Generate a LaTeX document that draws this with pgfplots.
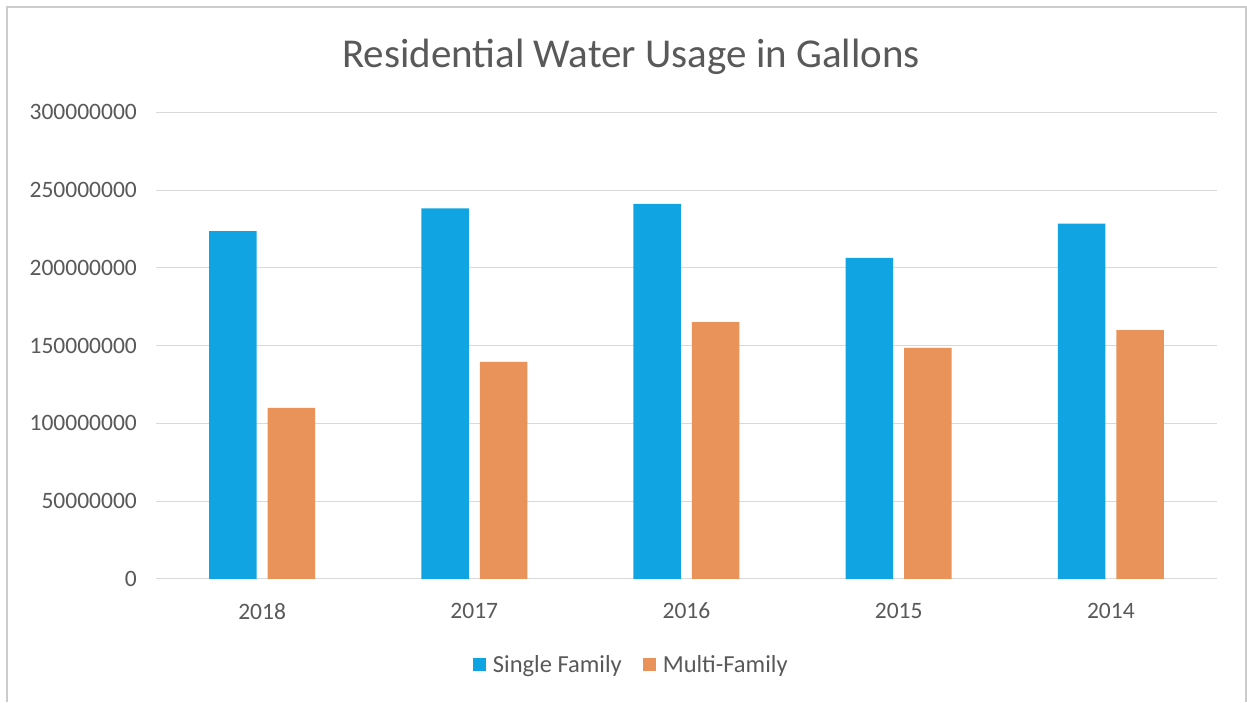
\documentclass[border=0pt]{standalone}
\usepackage{pgfplots}
\pgfplotsset{compat=1.18}
\usepackage{fontspec}
\setmainfont{Carlito}
\definecolor{sfblue}{HTML}{10A5E2}
\definecolor{mforange}{HTML}{E9925A}
\definecolor{txtgray}{HTML}{595959}
\definecolor{gridgray}{HTML}{D9D9D9}

% Annual residential water usage (gallons)
\pgfplotstableread{
idx single multi
0 223600000 110000000
1 238200000 139600000
2 241100000 165100000
3 206400000 148600000
4 228500000 160000000
}\usage

\begin{document}
\begin{tikzpicture}[x=1pt,y=1pt]
\useasboundingbox (0,0) rectangle (1247,702);
\fill[white] (0,0) rectangle (1247,702);
\draw[gray!40, line width=1.2pt] (7,0) -- (7,695) -- (1246,695) -- (1246,0);
\node[anchor=base, font=\fontsize{41}{46}\selectfont, text=txtgray] at (631,634) {Residential Water Usage in Gallons};
\begin{axis}[
  at={(156pt,123.1pt)}, anchor=south west, scale only axis,
  width=1061pt, height=466.6pt,
  ybar=11pt, bar width=47.5pt,
  xmin=-0.5, xmax=4.5, ymin=0, ymax=300000000,
  scaled y ticks=false,
  xtick=data, xticklabels={2018,2017,2016,2015,2014},
  ytick={0,50000000,100000000,150000000,200000000,250000000,300000000},
  yticklabels={0,50000000,100000000,150000000,200000000,250000000,300000000},
  ymajorgrids, grid style={gridgray, line width=1pt},
  axis line style={draw=none}, major tick length=0pt,
  tick label style={font=\fontsize{23.5}{26}\selectfont, text=txtgray, inner sep=0pt},
  yticklabel style={xshift=-19pt},
  xticklabel style={yshift=-24pt},
  legend style={at={(0.448,-0.184)}, anchor=center, draw=none, fill=none,
    legend columns=2, font=\fontsize{24.5}{28}\selectfont, text=txtgray,
    /tikz/every odd column/.append style={column sep=5pt},
    /tikz/every even column/.append style={column sep=19pt}},
]
\addplot[fill=sfblue, draw=none,
  legend image code/.code={\fill[sfblue] (0pt,-6.5pt) rectangle (13pt,6.5pt);}]
  table[x=idx, y=single] {\usage};
\addlegendentry{Single Family}
\addplot[fill=mforange, draw=none,
  legend image code/.code={\fill[mforange] (0pt,-6.5pt) rectangle (13pt,6.5pt);}]
  table[x=idx, y=multi] {\usage};
\addlegendentry{Multi-Family}
\end{axis}
\end{tikzpicture}
\end{document}
